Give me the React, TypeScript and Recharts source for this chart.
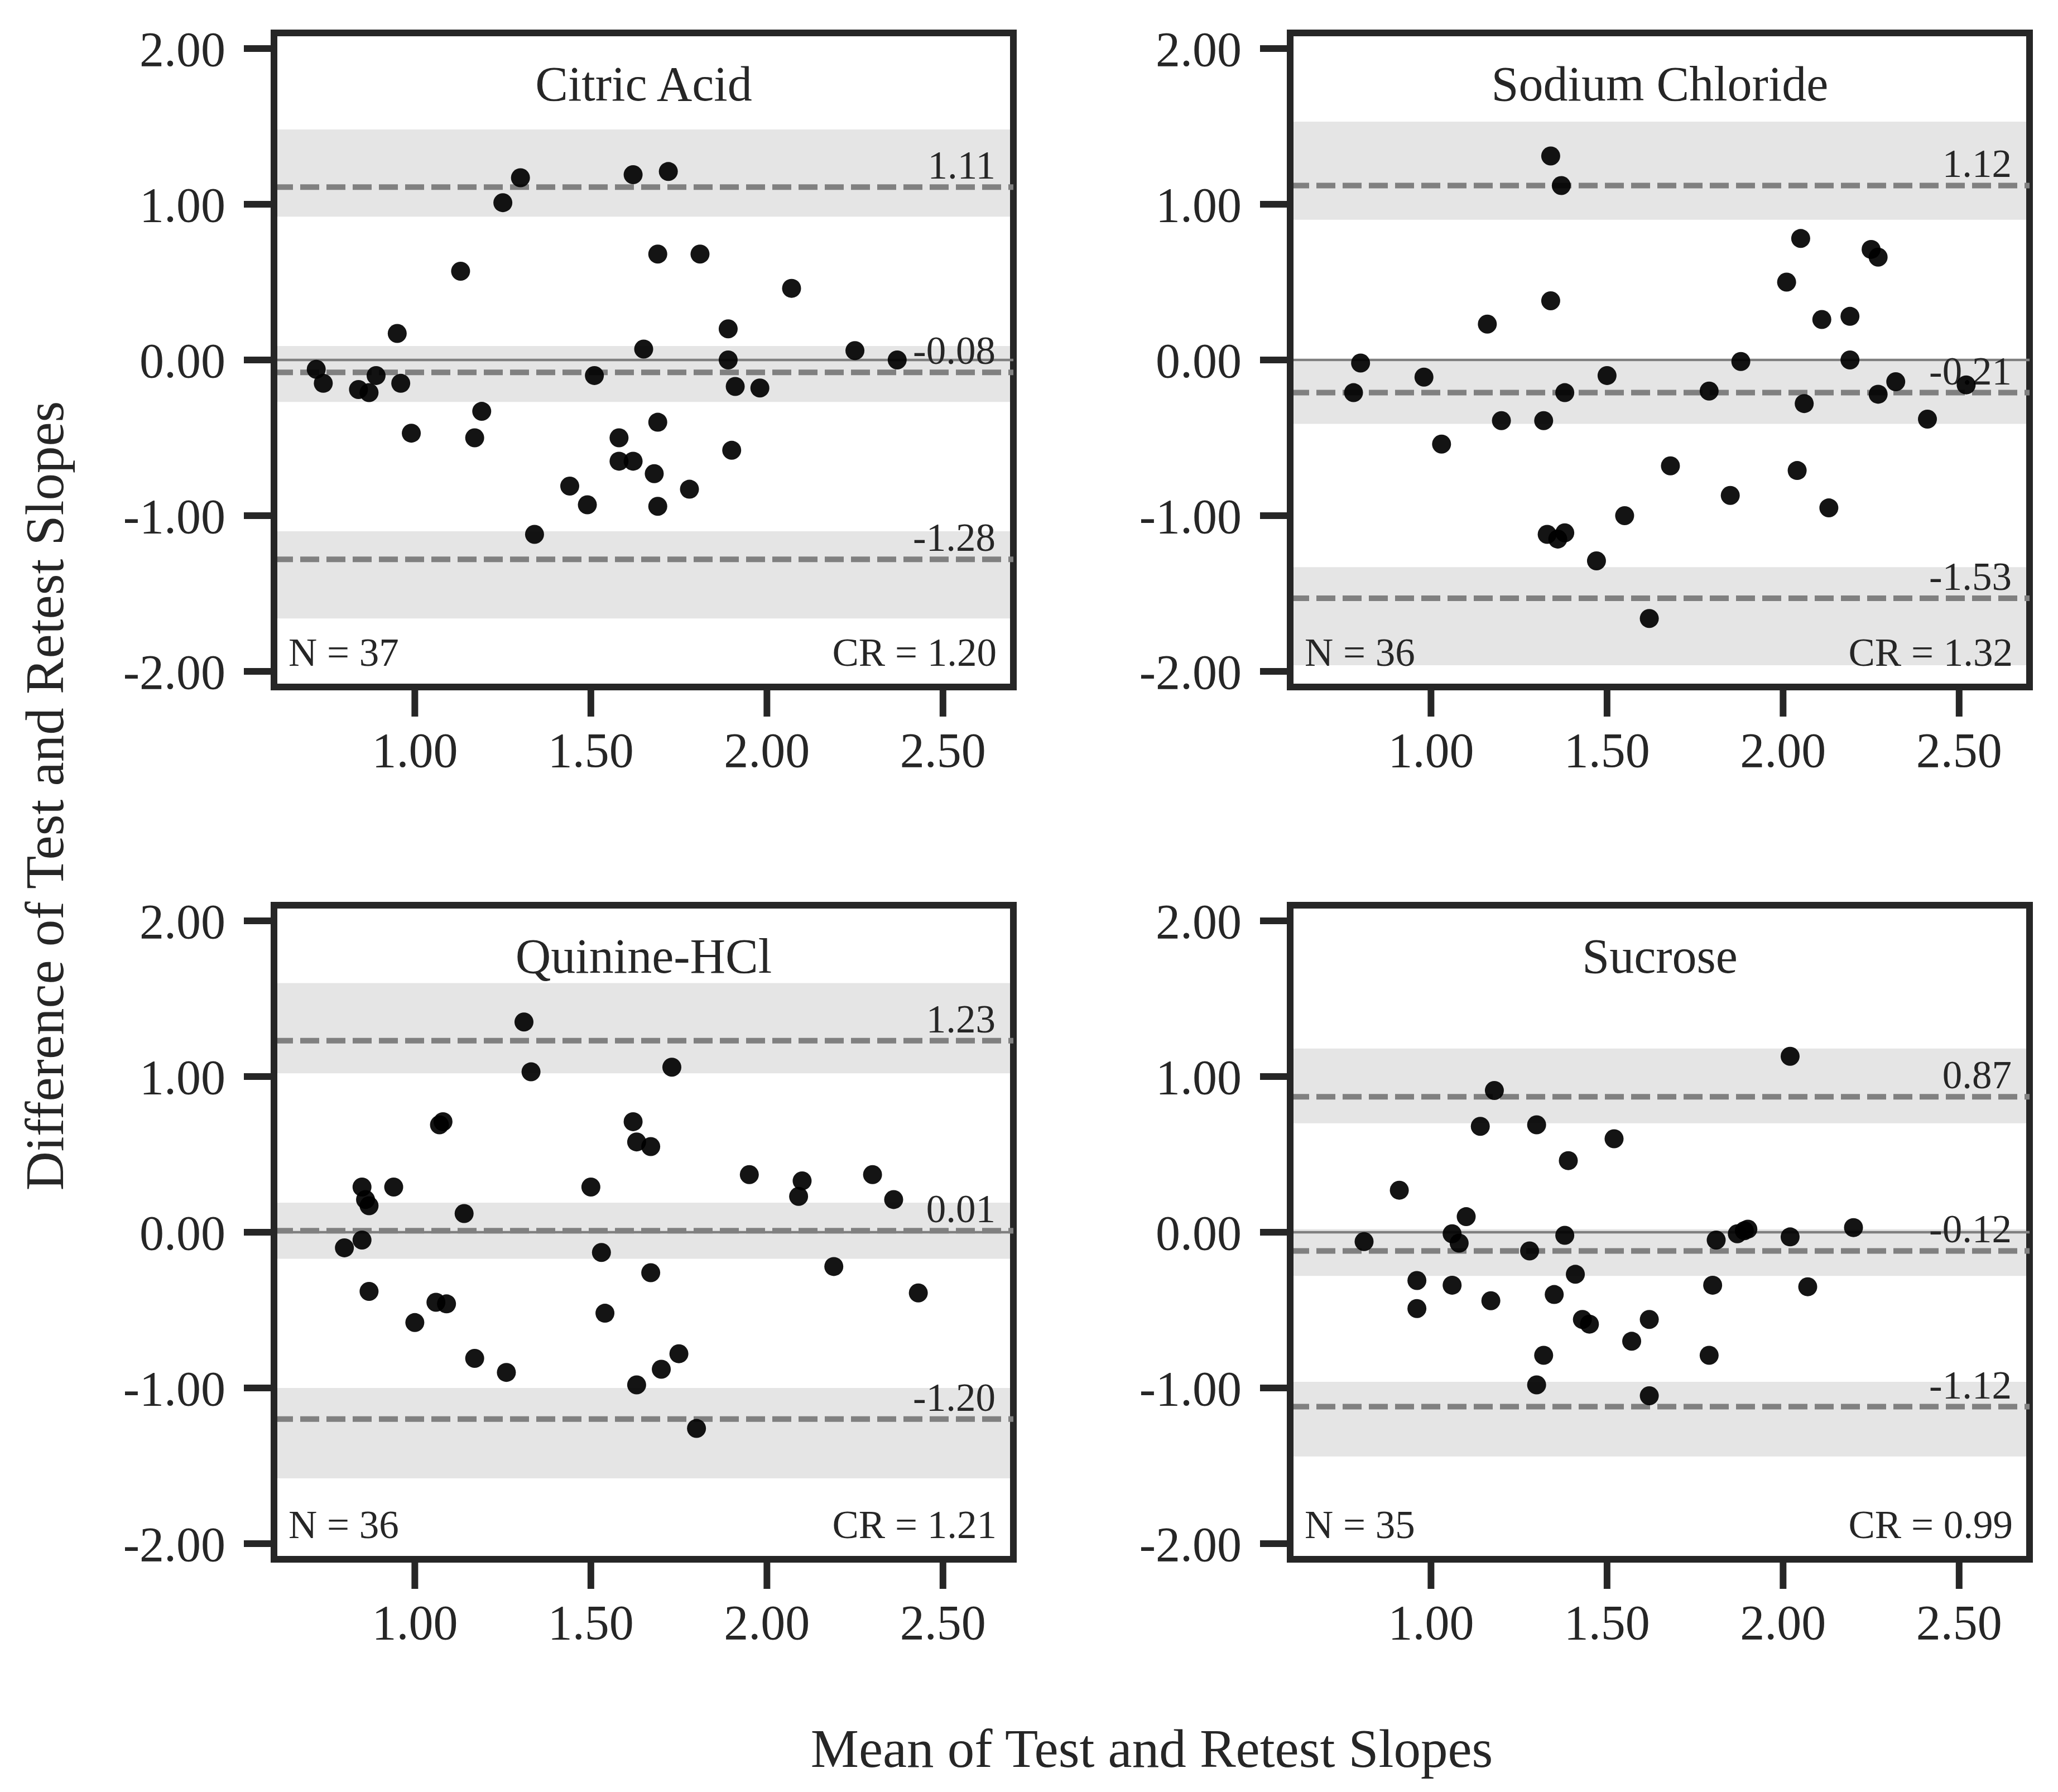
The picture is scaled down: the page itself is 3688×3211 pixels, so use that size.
import React from 'react';
import {
  ScatterChart,
  Scatter,
  XAxis,
  YAxis,
  ReferenceArea,
  ReferenceLine,
} from 'recharts';

const FONT = '"Liberation Serif", "Times New Roman", Times, serif';
const INK = '#262626';
const DASH = '#808080';
const BAND = '#e5e5e5';

const xTicks = [1.0, 1.5, 2.0, 2.5];
const yTicks = [-2, -1, 0, 1, 2];

// [mean, difference] pairs
const citricAcid: [number, number][] = [
  [0.72, -0.06], [0.74, -0.15], [0.84, -0.19], [0.87, -0.21], [0.89, -0.1],
  [0.95, 0.17], [0.96, -0.15], [0.99, -0.47], [1.13, 0.57], [1.19, -0.33],
  [1.17, -0.5], [1.25, 1.01], [1.3, 1.17], [1.34, -1.12], [1.44, -0.81],
  [1.49, -0.93], [1.51, -0.1], [1.58, -0.65], [1.58, -0.5], [1.62, -0.65],
  [1.62, 1.19], [1.65, 0.07], [1.68, -0.73], [1.69, 0.68], [1.69, -0.4],
  [1.69, -0.94], [1.72, 1.21], [1.78, -0.83], [1.81, 0.68], [1.89, 0.2],
  [1.89, 0.0], [1.9, -0.58], [1.91, -0.17], [1.98, -0.18], [2.07, 0.46],
  [2.25, 0.06], [2.37, 0.0],
];
const citricLimits = [1.11, -0.08, -1.28];
const citricBands: [number, number][] = [[0.92, 1.48], [-0.27, 0.09], [-1.66, -1.1]];

const sodiumChloride: [number, number][] = [
  [0.8, -0.02], [0.78, -0.21], [0.98, -0.11], [1.03, -0.54], [1.16, 0.23],
  [1.2, -0.39], [1.32, -0.39], [1.34, 1.31], [1.37, 1.12], [1.34, 0.38],
  [1.38, -0.21], [1.33, -1.12], [1.36, -1.15], [1.38, -1.11], [1.47, -1.29],
  [1.5, -0.1], [1.55, -1.0], [1.62, -1.66], [1.68, -0.68], [1.79, -0.2],
  [1.85, -0.87], [1.88, -0.01], [2.01, 0.5], [2.04, -0.71], [2.05, 0.78],
  [2.06, -0.28], [2.11, 0.26], [2.13, -0.95], [2.19, 0.28], [2.19, 0.0],
  [2.25, 0.71], [2.27, 0.66], [2.27, -0.22], [2.32, -0.14], [2.41, -0.38],
  [2.52, -0.16],
];
const sodiumLimits = [1.12, -0.21, -1.53];
const sodiumBands: [number, number][] = [[0.9, 1.53], [-0.41, -0.01], [-1.96, -1.33]];

const quinineHCl: [number, number][] = [
  [0.85, 0.29], [0.86, 0.21], [0.87, 0.17], [0.94, 0.29], [0.8, -0.1],
  [0.85, -0.05], [0.87, -0.38], [1.0, -0.58], [1.07, 0.69], [1.08, 0.71],
  [1.06, -0.45], [1.09, -0.46], [1.14, 0.12], [1.17, -0.81], [1.26, -0.9],
  [1.31, 1.35], [1.33, 1.03], [1.5, 0.29], [1.53, -0.13], [1.54, -0.52],
  [1.62, 0.71], [1.63, 0.58], [1.67, 0.55], [1.67, -0.26], [1.63, -0.98],
  [1.7, -0.88], [1.75, -0.78], [1.73, 1.06], [1.8, -1.26], [1.95, 0.37],
  [2.09, 0.23], [2.1, 0.33], [2.19, -0.22], [2.3, 0.37], [2.36, 0.21],
  [2.43, -0.39],
];
const quinineLimits = [1.23, 0.01, -1.2];
const quinineBands: [number, number][] = [[1.02, 1.6], [-0.17, 0.19], [-1.58, -1.0]];

const sucrose: [number, number][] = [
  [0.81, -0.06], [0.91, 0.27], [0.96, -0.31], [0.96, -0.49], [1.06, -0.01],
  [1.08, -0.07], [1.06, -0.34], [1.1, 0.1], [1.14, 0.68], [1.18, 0.91],
  [1.17, -0.44], [1.28, -0.12], [1.3, 0.69], [1.32, -0.79], [1.3, -0.98],
  [1.35, -0.4], [1.38, -0.02], [1.39, 0.46], [1.41, -0.27], [1.43, -0.56],
  [1.45, -0.59], [1.52, 0.6], [1.57, -0.7], [1.62, -0.56], [1.62, -1.05],
  [1.79, -0.79], [1.8, -0.34], [1.81, -0.05], [1.87, -0.01], [1.89, 0.01],
  [1.9, 0.02], [2.02, 1.13], [2.02, -0.03], [2.07, -0.35], [2.2, 0.03],
];
const sucroseLimits = [0.87, -0.12, -1.12];
const sucroseBands: [number, number][] = [[0.7, 1.18], [-0.28, 0.02], [-1.44, -0.96]];

// chart geometry (px)
const CHART_W = 1867;
const CHART_H = 1420;
const Y_AXIS_W = 491;
const X_AXIS_H = 150;
const MARGIN = { top: 59, right: 51, bottom: 39, left: 0 };

const Dot = (props: any) => (
  <circle cx={props.cx} cy={props.cy} r={17} fill="#000" fillOpacity={0.92} />
);

const limitLabel = (text: string) => (props: any) => {
  const vb = props.viewBox || {};
  return (
    <text
      x={vb.x + vb.width - 32}
      y={vb.y - 15}
      textAnchor="end"
      fontSize={71}
      fontFamily={FONT}
      fill={INK}
    >
      {text}
    </text>
  );
};

interface PanelProps {
  title: string;
  points: [number, number][];
  limits: number[];
  bands: [number, number][];
  n: number;
  cr: string;
  left: number;
  top: number;
}

const Panel: React.FC<PanelProps> = ({ title, points, limits, bands, n, cr, left, top }) => {
  const data = points.map(([x, y]) => ({ x, y }));

  const frameText = (props: any) => {
    const vb = props.viewBox || {};
    return (
      <g fontFamily={FONT} fill={INK}>
        <text x={vb.x + vb.width / 2} y={vb.y + 121} textAnchor="middle" fontSize={88}>
          {title}
        </text>
        <text x={vb.x + 26} y={vb.y + vb.height - 38} fontSize={71}>
          {`N = ${n}`}
        </text>
        <text x={vb.x + vb.width - 30} y={vb.y + vb.height - 38} textAnchor="end" fontSize={71}>
          {`CR = ${cr}`}
        </text>
      </g>
    );
  };

  return (
    <div style={{ position: 'absolute', left, top, width: CHART_W, height: CHART_H }}>
      <ScatterChart width={CHART_W} height={CHART_H} margin={MARGIN}>
        <XAxis
          type="number"
          dataKey="x"
          domain={[0.6, 2.7]}
          ticks={xTicks}
          allowDataOverflow
          height={X_AXIS_H}
          tickSize={53}
          tickMargin={28}
          tickFormatter={(v: number) => v.toFixed(2)}
          axisLine={{ stroke: INK, strokeWidth: 12 }}
          tickLine={{ stroke: INK, strokeWidth: 12 }}
          tick={{ fill: INK, fontSize: 88, fontFamily: FONT }}
        />
        <YAxis
          type="number"
          dataKey="y"
          domain={[-2.1, 2.1]}
          ticks={yTicks}
          allowDataOverflow
          width={Y_AXIS_W}
          tickSize={54}
          tickMargin={33}
          tickFormatter={(v: number) => v.toFixed(2)}
          axisLine={{ stroke: INK, strokeWidth: 12 }}
          tickLine={{ stroke: INK, strokeWidth: 12 }}
          tick={{ fill: INK, fontSize: 88, fontFamily: FONT }}
        />
        {bands.map(([lo, hi], i) => (
          <ReferenceArea key={`band-${i}`} y1={lo} y2={hi} fill={BAND} fillOpacity={1} stroke="none" />
        ))}
        <ReferenceLine y={0} stroke={DASH} strokeWidth={4.5} />
        {limits.map((v, i) => (
          <ReferenceLine
            key={`lim-${i}`}
            y={v}
            stroke={DASH}
            strokeWidth={10}
            strokeDasharray="34 13"
            label={limitLabel(v.toFixed(2))}
          />
        ))}
        <Scatter data={data} shape={Dot} isAnimationActive={false} />
        <ReferenceArea
          x1={0.6}
          x2={2.7}
          y1={-2.1}
          y2={2.1}
          fill="none"
          stroke={INK}
          strokeWidth={12}
          ifOverflow="visible"
          label={frameText}
        />
      </ScatterChart>
    </div>
  );
};

const App: React.FC = () => (
  <div
    style={{
      position: 'absolute',
      left: 0,
      top: 0,
      width: 3688,
      height: 3211,
      background: '#fff',
      overflow: 'hidden',
    }}
  >
    <Panel title="Citric Acid" points={citricAcid} limits={citricLimits} bands={citricBands} n={37} cr="1.20" left={0} top={0} />
    <Panel title="Sodium Chloride" points={sodiumChloride} limits={sodiumLimits} bands={sodiumBands} n={36} cr="1.32" left={1821} top={0} />
    <Panel title="Quinine-HCl" points={quinineHCl} limits={quinineLimits} bands={quinineBands} n={36} cr="1.21" left={0} top={1563} />
    <Panel title="Sucrose" points={sucrose} limits={sucroseLimits} bands={sucroseBands} n={35} cr="0.99" left={1821} top={1563} />
    <svg
      width={3688}
      height={3211}
      style={{ position: 'absolute', left: 0, top: 0, pointerEvents: 'none' }}
    >
      <text x={2064} y={3166} textAnchor="middle" fontSize={97} fontFamily={FONT} fill={INK}>
        Mean of Test and Retest Slopes
      </text>
      <text
        transform="translate(113,1426) rotate(-90)"
        textAnchor="middle"
        fontSize={97}
        fontFamily={FONT}
        fill={INK}
      >
        Difference of Test and Retest Slopes
      </text>
    </svg>
  </div>
);

export default App;
